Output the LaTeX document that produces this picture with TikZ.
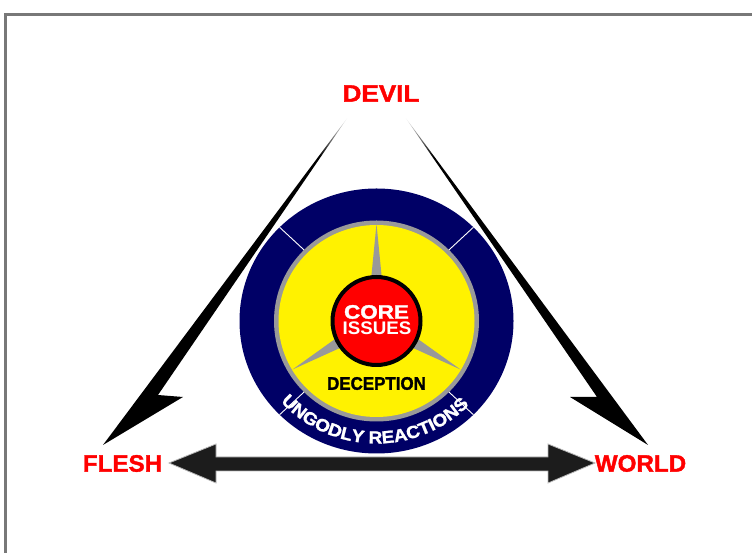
\documentclass[tikz,border=0pt]{standalone}
\usepackage{fontspec}
\setmainfont{Liberation Sans}
\newfontfamily\heavyfont[FakeBold=1.6]{Liberation Sans}
\newfontfamily\widefont[FakeStretch=1.08, FakeBold=1.4]{Liberation Sans}
\usetikzlibrary{decorations.text}
\definecolor{navyring}{RGB}{0,0,102}
\definecolor{ringgray}{RGB}{153,153,153}
\definecolor{labelred}{RGB}{255,0,0}
\definecolor{arrowdark}{RGB}{28,28,28}
\definecolor{framegray}{RGB}{120,120,120}
\pgfdeclareverticalshading{boltfade}{100bp}{color(0bp)=(black); color(69bp)=(black); color(75bp)=(white); color(100bp)=(white)}
\tikzset{
  label/.style={text=labelred, inner sep=0, font=\heavyfont\bfseries\fontsize{23.7}{24}\selectfont},
  coretext/.style={text=white, inner sep=0},
  bolt/.style={shading=boltfade},
  spoke/.style={fill=ringgray},
  divider/.style={draw=white, line width=0.9},
  dblarrow/.style={fill=arrowdark, draw=gray!55, line width=0.8},
  framestyle/.style={draw=framegray, line width=3}
}
\begin{document}
\begin{tikzpicture}[x=1pt,y=1pt]
\useasboundingbox (0,0) rectangle (752,553);
\clip (0,0) rectangle (752,553);
\fill[white] (0,0) rectangle (752,553);
\draw[framestyle] (5,-20) -- (5,538.5) -- (790,538.5);

% labels
\node[label, xscale=1.1] (devil) at (381,459.5) {DEVIL};
\node[label, xscale=1.02] (flesh) at (122.5,89.5) {FLESH};
\node[label, xscale=1.02] (world) at (640.5,89.5) {WORLD};

% lightning bolts
\shade[bolt] (348,436) -- (158,158) -- (183,156) -- (103,108) -- cycle;
\shade[bolt] (405,436) -- (597,156) -- (570,156) -- (648,108) -- cycle;

% double arrow
\filldraw[dblarrow] (169,90) -- (216,109) -- (216,96) -- (548,96) -- (548,109) -- (595,90)
  -- (548,70) -- (548,82) -- (216,82) -- (216,70) -- cycle;

% rings
\coordinate (C) at (376.5,232);
\fill[navyring] (C) ellipse [x radius=137, y radius=132.5];
\fill[ringgray] (C) ellipse [x radius=102.5, y radius=100.5];
\fill[yellow] (C) ellipse [x radius=98, y radius=96];
\foreach \a in {45,135,225,315}
  \draw[divider] ([shift={(C)}]\a:102.5 and 100.5) -- ([shift={(C)}]\a:137 and 132.5);

% spokes
\begin{scope}[shift={(C)}]
  \foreach \a in {90,210,330}
    \fill[spoke, rotate=\a] (97,0) -- (36,6) -- (36,-6) -- cycle;
\end{scope}

% core
\draw[line width=4, fill=red] (C) circle [radius=44];
\node[coretext, xscale=1.15, font=\heavyfont\bfseries\fontsize{19.5}{20}\selectfont] (core) at (376.5,241) {CORE};
\node[coretext, xscale=1.03, font=\bfseries\fontsize{18.2}{19}\selectfont] (issues) at (377,224.5) {ISSUES};
\node[inner sep=0, xscale=0.93, font=\heavyfont\bfseries\fontsize{18.2}{19}\selectfont] (deception) at (376.5,169.5) {DECEPTION};

% curved text
\path[decorate, decoration={text along path,
   text={|\widefont\bfseries\fontsize{17.5}{18}\selectfont|UNGODLY REACTIONS},
   text align=center, text color=white}]
  ([shift={(C)}]214:127 and 122.5) arc[start angle=214, end angle=324, x radius=127, y radius=122.5];
\end{tikzpicture}
\end{document}
